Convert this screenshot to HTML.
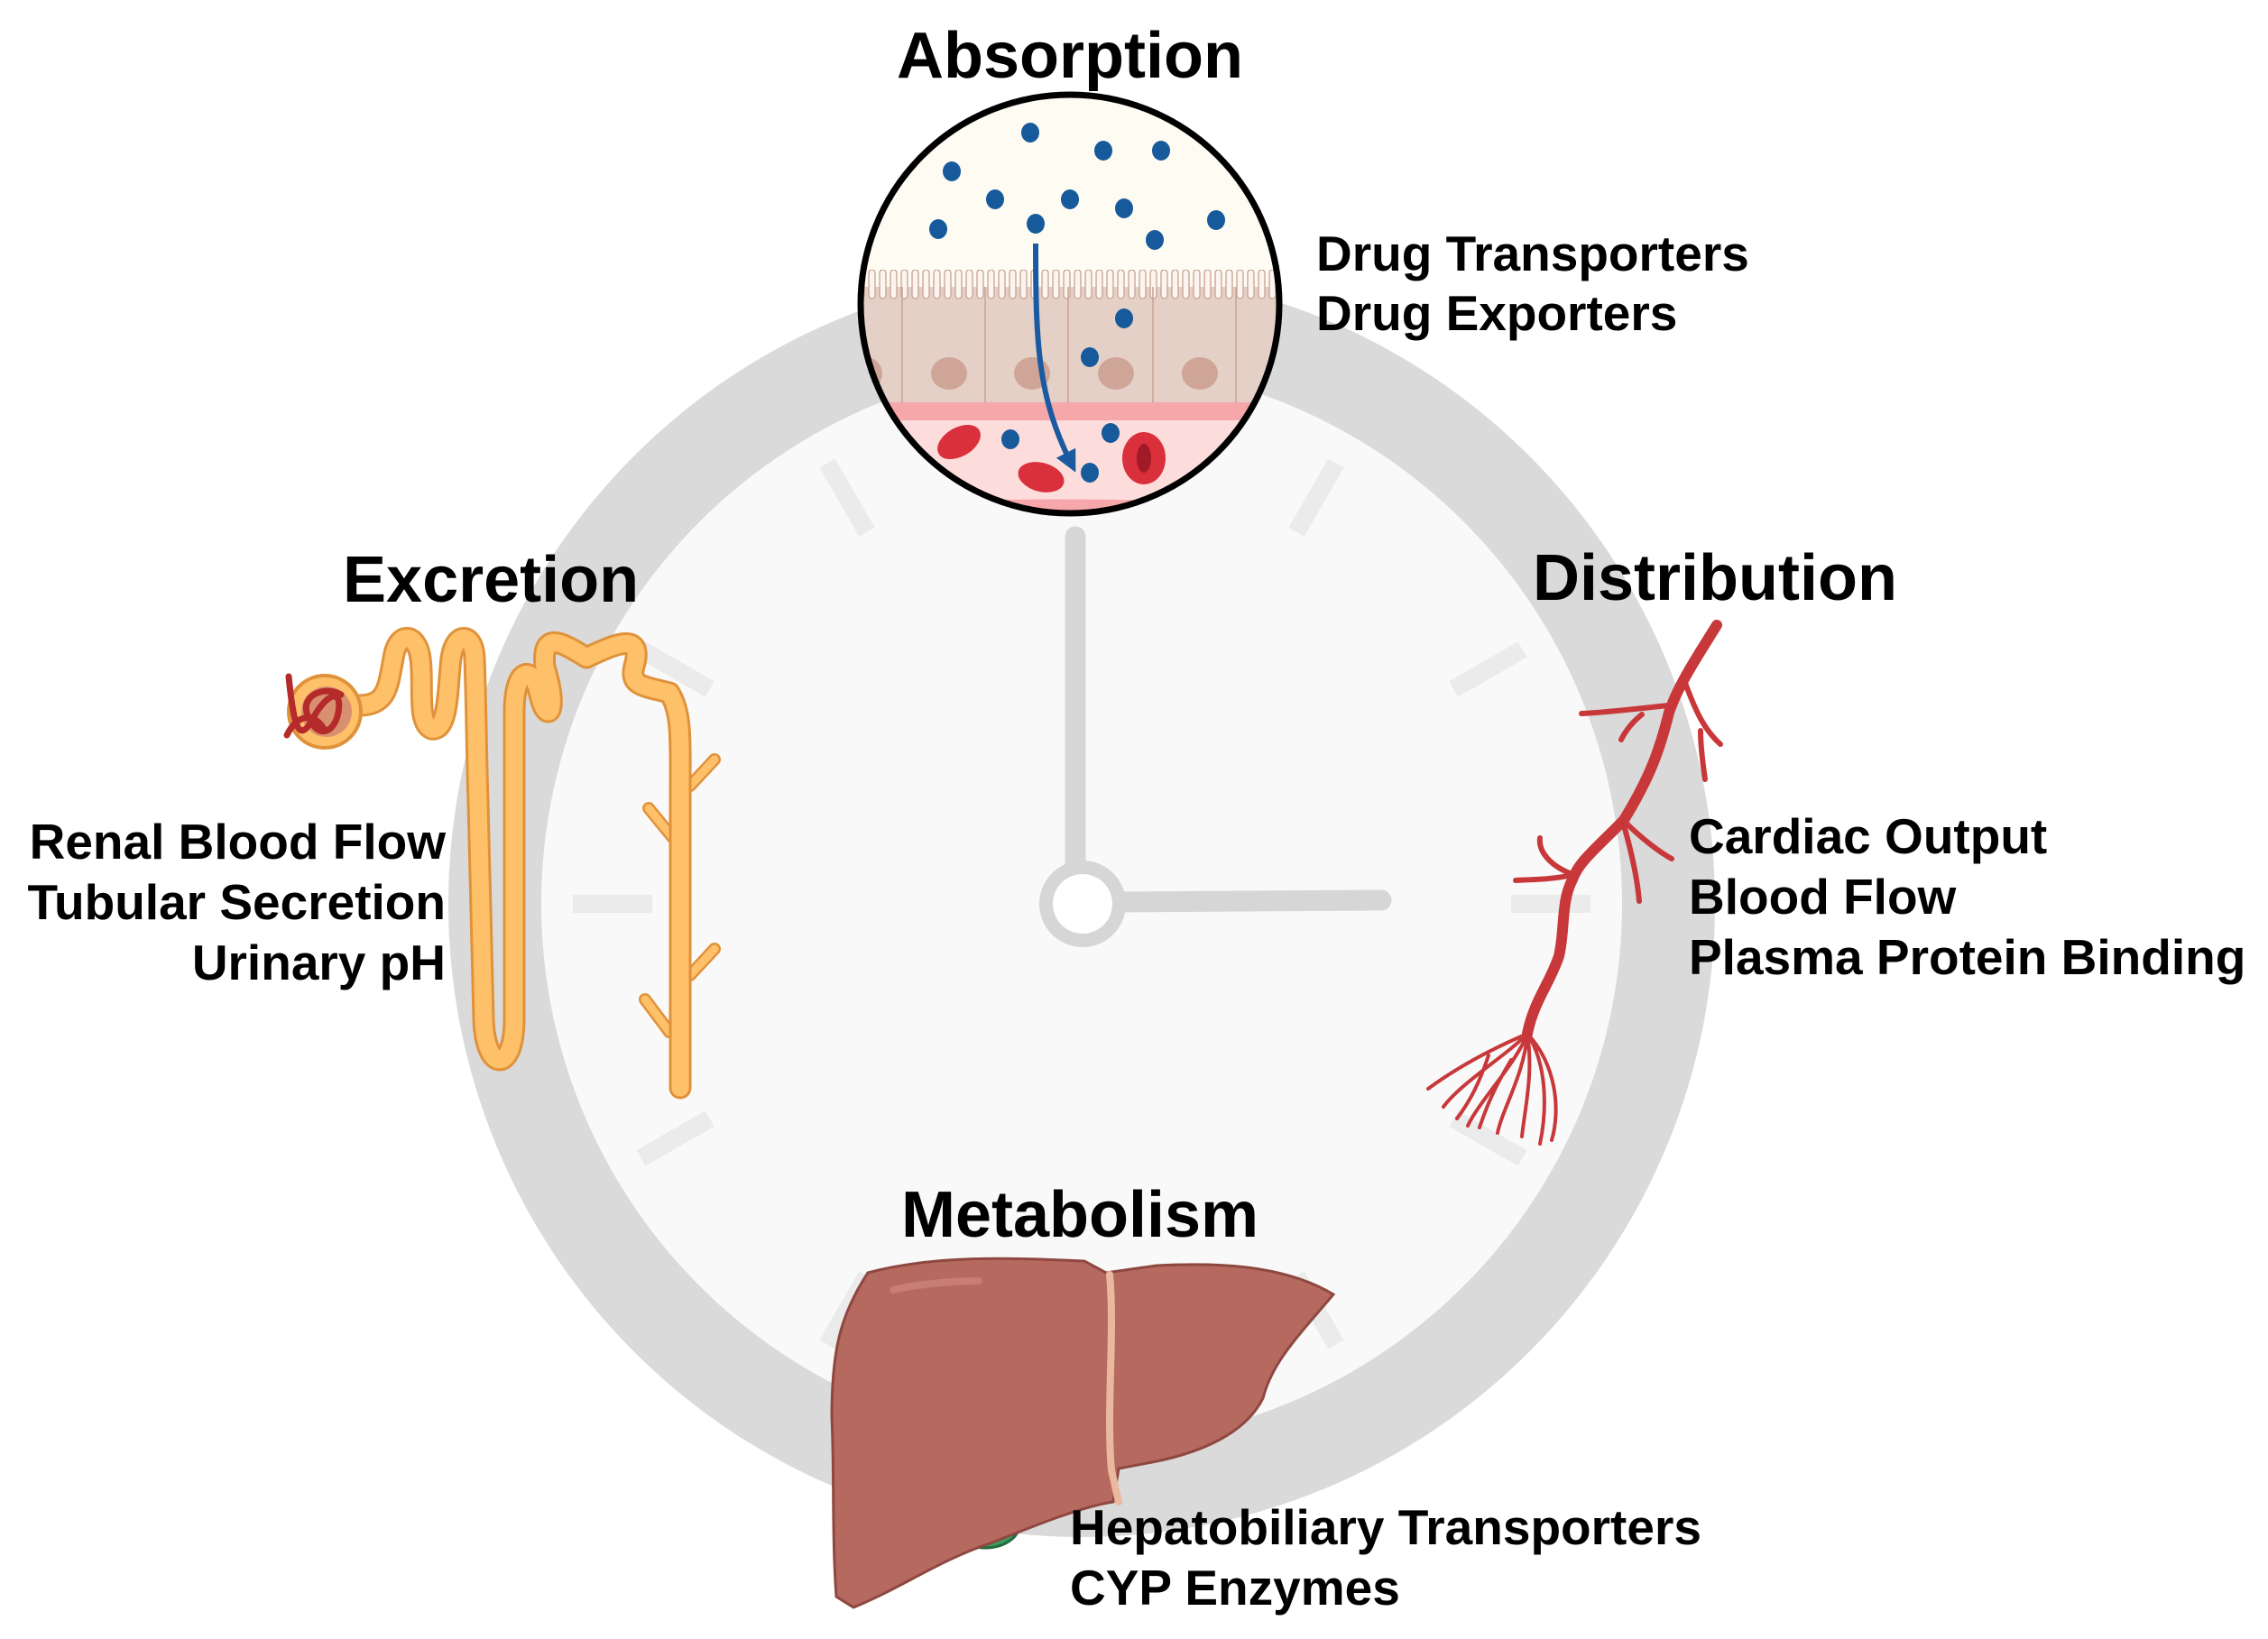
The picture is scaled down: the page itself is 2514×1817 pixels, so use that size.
<!DOCTYPE html>
<html><head><meta charset="utf-8"><style>
html,body{margin:0;padding:0;background:#fff}
svg{display:block}
text{font-family:"Liberation Sans",Arial,sans-serif;font-weight:bold;fill:#000}
</style></head><body>
<svg width="2514" height="1817" viewBox="0 0 2514 1817" xmlns="http://www.w3.org/2000/svg">
<defs>
<clipPath id="cc"><circle cx="1186" cy="337" r="232"/></clipPath>
<pattern id="mv" x="0" y="299" width="12" height="40" patternUnits="userSpaceOnUse">
<rect x="3" y="0" width="7" height="32" rx="3.5" fill="#fbf4ef" stroke="#c9a292" stroke-width="1.3"/>
</pattern>
<marker id="ah" viewBox="0 0 10 10" refX="6" refY="5" markerWidth="4" markerHeight="4" orient="auto"><path d="M0,0L10,5L0,10z" fill="#1a5aa0"/></marker>
<path id="tb" d="M398,782 C430,782 430,760 436,730 C440,700 462,700 466,730 C470,760 462,800 478,808 C498,812 496,760 500,730 C504,700 525,700 526,730 C528,780 528,830 530,889 L536,1130 C538,1190 570,1190 570,1130 L570,790 C570,740 590,735 598,770 C606,805 620,790 604,740 C600,700 620,710 650,729 C680,715 712,700 704,735 C696,760 710,760 742,768 C756,790 754,820 754,880 L754,1206"/>
<path id="br" d="M765,871 L792,842 M746,929 L719,896 M765,1081 L792,1052 M742,1144 L715,1108"/>
</defs>
<rect width="2514" height="1817" fill="#fff"/>
<!-- clock -->
<circle cx="1199" cy="1002" r="702" fill="#dadada"/>
<circle cx="1199" cy="1002" r="599" fill="#f9f9f9"/>
<g fill="#ebebeb">
<g transform="translate(1199,1002)">
<rect x="476" y="-10" width="88" height="20" transform="rotate(0)"/>
<rect x="476" y="-10" width="88" height="20" transform="rotate(30)"/>
<rect x="476" y="-10" width="88" height="20" transform="rotate(60)"/>
<rect x="476" y="-10" width="88" height="20" transform="rotate(120)"/>
<rect x="476" y="-10" width="88" height="20" transform="rotate(150)"/>
<rect x="476" y="-10" width="88" height="20" transform="rotate(180)"/>
<rect x="476" y="-10" width="88" height="20" transform="rotate(210)"/>
<rect x="476" y="-10" width="88" height="20" transform="rotate(240)"/>
<rect x="476" y="-10" width="88" height="20" transform="rotate(300)"/>
<rect x="476" y="-10" width="88" height="20" transform="rotate(330)"/>
</g></g>
<g stroke="#d6d6d6" stroke-width="23" stroke-linecap="round" fill="none">
<line x1="1192" y1="595" x2="1192" y2="965"/>
<line x1="1240" y1="1000" x2="1531" y2="998"/>
</g>
<circle cx="1200" cy="1002" r="48" fill="#d6d6d6"/>
<circle cx="1200" cy="1002" r="33" fill="#fff"/>

<!-- absorption inset -->
<g clip-path="url(#cc)">
<rect x="940" y="100" width="500" height="480" fill="#fdfbf2"/>
<rect x="940" y="318" width="500" height="130" fill="#e4d0c7"/>
<rect x="940" y="299" width="500" height="33" fill="url(#mv)"/>
<g stroke="#c9a292" stroke-width="1.5">
<line x1="1000" y1="318" x2="1000" y2="446"/><line x1="1092" y1="318" x2="1092" y2="446"/>
<line x1="1184" y1="318" x2="1184" y2="446"/><line x1="1278" y1="318" x2="1278" y2="446"/>
<line x1="1370" y1="318" x2="1370" y2="446"/>
</g>
<g fill="#cfa597">
<ellipse cx="960" cy="414" rx="18" ry="18"/>
<ellipse cx="1052" cy="414" rx="20" ry="18"/><ellipse cx="1144" cy="414" rx="20" ry="18"/>
<ellipse cx="1237" cy="414" rx="20" ry="18"/><ellipse cx="1330" cy="414" rx="20" ry="18"/>
</g>
<rect x="940" y="446" width="500" height="20" fill="#f6a7a9"/>
<rect x="940" y="466" width="500" height="120" fill="#fddddc"/>
<path d="M940,562 Q1160,545 1440,562 L1440,580 L940,580z" fill="#f6a7a9"/>
<ellipse cx="1063" cy="490" rx="26" ry="16" transform="rotate(-30 1063 490)" fill="#d9303c"/>
<ellipse cx="1154" cy="529" rx="26" ry="16" transform="rotate(15 1154 529)" fill="#d9303c"/>
<ellipse cx="1268" cy="508" rx="24" ry="29" fill="#d9303c"/>
<ellipse cx="1268" cy="508" rx="8" ry="16" fill="#a01a28"/>
<path d="M1148,270 C1148,380 1150,440 1188,515" stroke="#1a5aa0" stroke-width="6" fill="none" marker-end="url(#ah)"/>
<g fill="#165a9c">
<ellipse cx="1142" cy="147" rx="10" ry="11"/><ellipse cx="1223" cy="167" rx="10" ry="11"/>
<ellipse cx="1287" cy="167" rx="10" ry="11"/><ellipse cx="1055" cy="190" rx="10" ry="11"/>
<ellipse cx="1103" cy="221" rx="10" ry="11"/><ellipse cx="1186" cy="221" rx="10" ry="11"/>
<ellipse cx="1246" cy="231" rx="10" ry="11"/><ellipse cx="1040" cy="254" rx="10" ry="11"/>
<ellipse cx="1148" cy="248" rx="10" ry="11"/><ellipse cx="1348" cy="244" rx="10" ry="11"/>
<ellipse cx="1280" cy="266" rx="10" ry="11"/><ellipse cx="1246" cy="353" rx="10" ry="11"/>
<ellipse cx="1208" cy="396" rx="10" ry="11"/><ellipse cx="1120" cy="487" rx="10" ry="11"/>
<ellipse cx="1231" cy="480" rx="10" ry="11"/><ellipse cx="1208" cy="524" rx="10" ry="11"/>
</g>
</g>
<circle cx="1186" cy="337" r="232" fill="none" stroke="#000" stroke-width="7"/>

<!-- nephron -->
<g fill="none" stroke-linecap="round" stroke-linejoin="round">
<use href="#br" stroke="#e0923a" stroke-width="14"/>
<use href="#br" stroke="#ffc06a" stroke-width="9"/>
<use href="#tb" stroke="#e0923a" stroke-width="25"/>
<use href="#tb" stroke="#ffc06a" stroke-width="19"/>
</g>
<circle cx="360" cy="789" r="40" fill="#ffc06a" stroke="#e0923a" stroke-width="4"/>
<circle cx="362" cy="789" r="28" fill="#d99070"/>
<path d="M320,750 C325,800 330,825 345,800 C360,770 380,760 375,790 C370,815 350,820 340,790 C335,770 360,760 378,770 M318,815 C330,790 350,790 360,810" stroke="#b52a2a" stroke-width="7" fill="none" stroke-linecap="round"/>

<!-- vessel -->
<g fill="none" stroke="#c8383a" stroke-linecap="round" stroke-linejoin="round">
<path d="M1903,693 C1880,730 1860,760 1850,790 C1840,830 1830,860 1800,909 C1770,940 1750,955 1743,975 C1730,1000 1735,1030 1728,1060 C1718,1090 1700,1110 1693,1146" stroke-width="12"/>
<path d="M1850,782 C1810,786 1780,790 1753,791 M1820,792 C1810,800 1802,810 1797,820 M1868,757 C1880,790 1890,810 1907,825 M1885,810 C1885,830 1888,850 1890,864" stroke-width="6"/>
<path d="M1800,910 C1820,930 1840,945 1853,952 M1800,915 C1810,950 1815,975 1817,999 M1743,970 C1720,975 1700,975 1680,976 M1740,968 C1720,960 1705,945 1707,929" stroke-width="6"/>
<path d="M1693,1146 C1660,1160 1620,1180 1583,1207 M1693,1146 C1670,1170 1620,1200 1600,1227 M1693,1146 C1680,1180 1640,1220 1627,1248 M1693,1146 C1690,1190 1665,1230 1660,1256 M1693,1146 C1700,1190 1690,1230 1687,1260 M1693,1146 C1715,1180 1715,1230 1707,1268 M1693,1146 C1725,1180 1730,1230 1720,1264 M1650,1170 C1640,1200 1630,1220 1615,1240 M1675,1175 C1660,1200 1650,1220 1640,1250" stroke-width="4"/>
</g>

<!-- liver -->
<ellipse cx="1092" cy="1690" rx="38" ry="26" fill="#3e9a5e" stroke="#256a3c" stroke-width="3"/>
<path d="M962,1411 C1040,1390 1130,1395 1202,1398 L1226,1411 L1282,1403 C1340,1400 1420,1400 1478,1435 C1440,1480 1410,1510 1400,1550 C1380,1590 1330,1610 1282,1620 L1240,1628 L1234,1665 C1200,1670 1150,1690 1100,1710 C1040,1730 1000,1760 946,1782 L927,1770 C922,1700 925,1630 922,1571 C922,1500 930,1460 962,1411 Z" fill="#b66a5f" stroke="#8e4840" stroke-width="3"/>
<path d="M1230,1413 C1236,1480 1226,1560 1232,1630 L1240,1665" stroke="#e9b89e" stroke-width="8" fill="none" stroke-linecap="round"/>
<path d="M990,1430 C1010,1425 1050,1420 1085,1420" stroke="#c77e74" stroke-width="8" fill="none" stroke-linecap="round"/>

<!-- text -->
<text x="994" y="86" font-size="72">Absorption</text>
<text x="1459" y="300" font-size="55">Drug Transporters</text>
<text x="1459" y="366" font-size="55">Drug Exporters</text>
<text x="380" y="667" font-size="72">Excretion</text>
<g text-anchor="end" font-size="55"><text x="494" y="952">Renal Blood Flow</text><text x="494" y="1019">Tubular Secretion</text><text x="494" y="1086">Urinary pH</text></g>
<text x="1699" y="665" font-size="72">Distribution</text>
<g font-size="55"><text x="1872" y="946">Cardiac Output</text><text x="1872" y="1013">Blood Flow</text><text x="1872" y="1080">Plasma Protein Binding</text></g>
<text x="999" y="1371" font-size="72">Metabolism</text>
<g font-size="55"><text x="1186" y="1712">Hepatobiliary Transporters</text><text x="1186" y="1779">CYP Enzymes</text></g>
</svg>
</body></html>
